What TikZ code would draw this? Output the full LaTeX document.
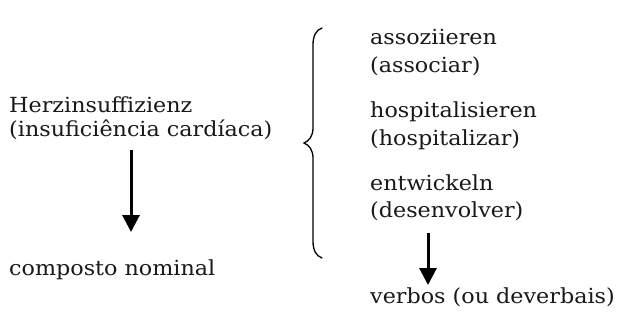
\documentclass[tikz,border=0pt]{standalone}
\usepackage{fontspec}
\setmainfont{DejaVu Serif}[FakeStretch=1.07]
\usetikzlibrary{arrows.meta}
\tikzset{
  txt/.style={anchor=base west, inner sep=0pt, font=\fontsize{20.8}{24}\selectfont, text=black!90},
  bigarrow/.style={line width=3pt, -{Triangle[width=17pt,length=17pt]}},
  bracepath/.style={line width=1.3pt, line cap=round}
}
\begin{document}
\begin{tikzpicture}[x=1pt,y=-1pt]
\useasboundingbox[fill=white] (0,0) rectangle (617,321);
% left column
\node[txt] (herz) at (9,112) {Herzinsuffizienz};
\node[txt] (insuf) at (9,136) {(insuficiência cardíaca)};
\node[txt] (comp) at (9,275) {composto nominal};
% right column
\node[txt] (assoz) at (370,45) {assoziieren};
\node[txt] (assoc) at (370,72) {(associar)};
\node[txt] (hospd) at (370,117) {hospitalisieren};
\node[txt] (hosp) at (370,145) {(hospitalizar)};
\node[txt] (entw) at (370,190) {entwickeln};
\node[txt] (desenv) at (370,217) {(desenvolver)};
\node[txt] (verb) at (370,303) {verbos (ou deverbais)};
% arrows
\coordinate (a1s) at (131,150);
\coordinate (a1e) at (131,232);
\coordinate (a2s) at (428,233);
\coordinate (a2e) at (428,285);
\draw[bigarrow] (a1s) -- (a1e);
\draw[bigarrow] (a2s) -- (a2e);
% brace
\coordinate (btop) at (322,28);
\coordinate (btip) at (304,143);
\coordinate (bbot) at (322,258);
\draw[bracepath] (btop) .. controls (316,30) and (313,36) .. (313,45)
  -- (313,128) .. controls (313,136) and (309,141) .. (btip)
  .. controls (309,145) and (313,150) .. (313,158)
  -- (313,241) .. controls (313,250) and (316,256) .. (bbot);
\end{tikzpicture}
\end{document}
